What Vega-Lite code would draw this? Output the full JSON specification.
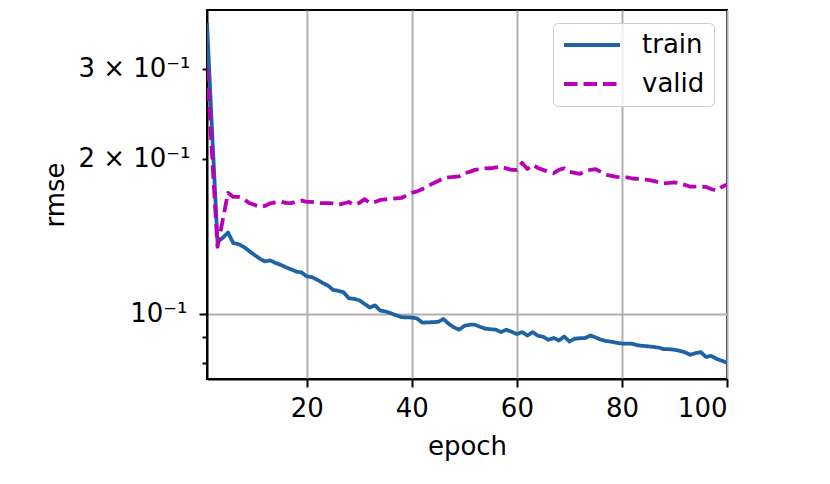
{
  "$schema": "https://vega.github.io/schema/vega-lite/v6.json",
  "width": 520,
  "height": 369,
  "autosize": "none",
  "padding": {"left": 207, "top": 10, "right": 103, "bottom": 105},
  "background": "white",
  "config": {
    "font": "DejaVu Sans",
    "view": {"stroke": "black", "strokeWidth": 2},
    "axis": {
      "domainColor": "black", "domainWidth": 2,
      "tickColor": "black", "tickWidth": 2,
      "labelColor": "black", "titleColor": "black",
      "labelFont": "DejaVu Sans", "titleFont": "DejaVu Sans",
      "labelFontSize": 26, "titleFontSize": 26, "titleFontWeight": "normal",
      "gridColor": "#b0b0b0", "gridWidth": 2
    },
    "legend": {
      "labelFont": "DejaVu Sans", "labelFontSize": 26, "labelColor": "black",
      "symbolType": "stroke", "symbolSize": 3136, "symbolStrokeWidth": 3.8,
      "clipHeight": 26,
      "labelOffset": 20, "padding": 9, "rowPadding": 13,
      "fillColor": "rgba(255,255,255,0.8)", "strokeColor": "#cccccc", "cornerRadius": 5
    }
  },
  "data": {"values": [
    {"epoch":1,"train":0.3678,"valid":0.3006},
    {"epoch":2,"train":0.2227,"valid":0.2009},
    {"epoch":3,"train":0.1379,"valid":0.1348},
    {"epoch":4,"train":0.1404,"valid":0.1521},
    {"epoch":5,"train":0.1438,"valid":0.1718},
    {"epoch":6,"train":0.1371,"valid":0.1687},
    {"epoch":7,"train":0.1365,"valid":0.1687},
    {"epoch":8,"train":0.1348,"valid":0.1672},
    {"epoch":9,"train":0.1324,"valid":0.1642},
    {"epoch":10,"train":0.1301,"valid":0.1628},
    {"epoch":11,"train":0.1280,"valid":0.1613},
    {"epoch":12,"train":0.1263,"valid":0.1620},
    {"epoch":13,"train":0.1269,"valid":0.1638},
    {"epoch":14,"train":0.1255,"valid":0.1646},
    {"epoch":15,"train":0.1244,"valid":0.1652},
    {"epoch":16,"train":0.1231,"valid":0.1642},
    {"epoch":17,"train":0.1219,"valid":0.1640},
    {"epoch":18,"train":0.1207,"valid":0.1653},
    {"epoch":19,"train":0.1202,"valid":0.1659},
    {"epoch":20,"train":0.1181,"valid":0.1649},
    {"epoch":21,"train":0.1177,"valid":0.1649},
    {"epoch":22,"train":0.1163,"valid":0.1642},
    {"epoch":23,"train":0.1147,"valid":0.1640},
    {"epoch":24,"train":0.1134,"valid":0.1640},
    {"epoch":25,"train":0.1112,"valid":0.1638},
    {"epoch":26,"train":0.1107,"valid":0.1628},
    {"epoch":27,"train":0.1100,"valid":0.1638},
    {"epoch":28,"train":0.1071,"valid":0.1649},
    {"epoch":29,"train":0.1068,"valid":0.1628},
    {"epoch":30,"train":0.1061,"valid":0.1642},
    {"epoch":31,"train":0.1044,"valid":0.1670},
    {"epoch":32,"train":0.1027,"valid":0.1642},
    {"epoch":33,"train":0.1037,"valid":0.1649},
    {"epoch":34,"train":0.1013,"valid":0.1664},
    {"epoch":35,"train":0.1009,"valid":0.1668},
    {"epoch":36,"train":0.1001,"valid":0.1672},
    {"epoch":37,"train":0.0992,"valid":0.1676},
    {"epoch":38,"train":0.0984,"valid":0.1679},
    {"epoch":39,"train":0.0983,"valid":0.1698},
    {"epoch":40,"train":0.0982,"valid":0.1718},
    {"epoch":41,"train":0.0978,"valid":0.1729},
    {"epoch":42,"train":0.0960,"valid":0.1748},
    {"epoch":43,"train":0.0961,"valid":0.1768},
    {"epoch":44,"train":0.0962,"valid":0.1792},
    {"epoch":45,"train":0.0963,"valid":0.1812},
    {"epoch":46,"train":0.0976,"valid":0.1834},
    {"epoch":47,"train":0.0955,"valid":0.1841},
    {"epoch":48,"train":0.0940,"valid":0.1845},
    {"epoch":49,"train":0.0930,"valid":0.1849},
    {"epoch":50,"train":0.0946,"valid":0.1876},
    {"epoch":51,"train":0.0951,"valid":0.1887},
    {"epoch":52,"train":0.0951,"valid":0.1904},
    {"epoch":53,"train":0.0942,"valid":0.1910},
    {"epoch":54,"train":0.0934,"valid":0.1917},
    {"epoch":55,"train":0.0932,"valid":0.1918},
    {"epoch":56,"train":0.0930,"valid":0.1925},
    {"epoch":57,"train":0.0920,"valid":0.1930},
    {"epoch":58,"train":0.0930,"valid":0.1917},
    {"epoch":59,"train":0.0921,"valid":0.1904},
    {"epoch":60,"train":0.0912,"valid":0.1904},
    {"epoch":61,"train":0.0920,"valid":0.1965},
    {"epoch":62,"train":0.0906,"valid":0.1912},
    {"epoch":63,"train":0.0920,"valid":0.1947},
    {"epoch":64,"train":0.0905,"valid":0.1921},
    {"epoch":65,"train":0.0901,"valid":0.1904},
    {"epoch":66,"train":0.0889,"valid":0.1887},
    {"epoch":67,"train":0.0896,"valid":0.1876},
    {"epoch":68,"train":0.0886,"valid":0.1904},
    {"epoch":69,"train":0.0902,"valid":0.1918},
    {"epoch":70,"train":0.0882,"valid":0.1887},
    {"epoch":71,"train":0.0893,"valid":0.1878},
    {"epoch":72,"train":0.0895,"valid":0.1870},
    {"epoch":73,"train":0.0896,"valid":0.1895},
    {"epoch":74,"train":0.0906,"valid":0.1904},
    {"epoch":75,"train":0.0898,"valid":0.1910},
    {"epoch":76,"train":0.0889,"valid":0.1887},
    {"epoch":77,"train":0.0884,"valid":0.1862},
    {"epoch":78,"train":0.0881,"valid":0.1853},
    {"epoch":79,"train":0.0877,"valid":0.1845},
    {"epoch":80,"train":0.0874,"valid":0.1841},
    {"epoch":81,"train":0.0874,"valid":0.1841},
    {"epoch":82,"train":0.0873,"valid":0.1832},
    {"epoch":83,"train":0.0867,"valid":0.1828},
    {"epoch":84,"train":0.0865,"valid":0.1824},
    {"epoch":85,"train":0.0863,"valid":0.1820},
    {"epoch":86,"train":0.0861,"valid":0.1812},
    {"epoch":87,"train":0.0858,"valid":0.1801},
    {"epoch":88,"train":0.0852,"valid":0.1793},
    {"epoch":89,"train":0.0852,"valid":0.1796},
    {"epoch":90,"train":0.0850,"valid":0.1801},
    {"epoch":91,"train":0.0846,"valid":0.1792},
    {"epoch":92,"train":0.0840,"valid":0.1780},
    {"epoch":93,"train":0.0831,"valid":0.1766},
    {"epoch":94,"train":0.0837,"valid":0.1766},
    {"epoch":95,"train":0.0841,"valid":0.1768},
    {"epoch":96,"train":0.0823,"valid":0.1764},
    {"epoch":97,"train":0.0827,"valid":0.1748},
    {"epoch":98,"train":0.0816,"valid":0.1735},
    {"epoch":99,"train":0.0809,"valid":0.1764},
    {"epoch":100,"train":0.0802,"valid":0.1784}
  ]},
  "transform": [{"fold": ["train", "valid"], "as": ["series", "rmse"]}],
  "mark": {"type": "line", "strokeWidth": 3.8, "clip": true, "strokeJoin": "round"},
  "encoding": {
    "x": {
      "field": "epoch", "type": "quantitative",
      "scale": {"domain": [1, 100], "nice": false, "zero": false},
      "axis": {
        "values": [20, 40, 60, 80, 100], "title": "epoch", "grid": true,
        "tickSize": 8, "labelPadding": 8,
        "titleX": 260, "titleY": 67, "titleBaseline": "middle", "titleAlign": "center"
      }
    },
    "y": {
      "field": "rmse", "type": "quantitative",
      "scale": {"type": "log", "domain": [0.07455, 0.39], "nice": false},
      "axis": {
        "values": [0.08, 0.09, 0.1, 0.2, 0.3], "title": "rmse", "grid": true,
        "gridOpacity": {"condition": {"test": "abs(datum.value - 0.1) < 1e-6", "value": 1}, "value": 0},
        "tickSize": {"condition": {"test": "abs(datum.value - 0.1) < 1e-6", "value": 8}, "value": 5},
        "labelPadding": 12,
        "labelExpr": "abs(datum.value - 0.1) < 1e-6 ? '10⁻¹' : abs(datum.value - 0.2) < 1e-6 ? '2 × 10⁻¹' : abs(datum.value - 0.3) < 1e-6 ? '3 × 10⁻¹' : ''",
        "titleX": -152, "titleY": 184.5, "titleAngle": -90, "titleBaseline": "middle", "titleAlign": "center"
      }
    },
    "color": {
      "field": "series", "type": "nominal",
      "scale": {"domain": ["train", "valid"], "range": ["#1f63a5", "#b800b8"]},
      "legend": {"title": null, "orient": "none", "legendX": 346, "legendY": 13}
    },
    "strokeDash": {
      "field": "series", "type": "nominal",
      "scale": {"domain": ["train", "valid"], "range": [[1, 0], [13.5, 6]]},
      "legend": {"title": null, "orient": "none", "legendX": 346, "legendY": 13}
    }
  }
}
